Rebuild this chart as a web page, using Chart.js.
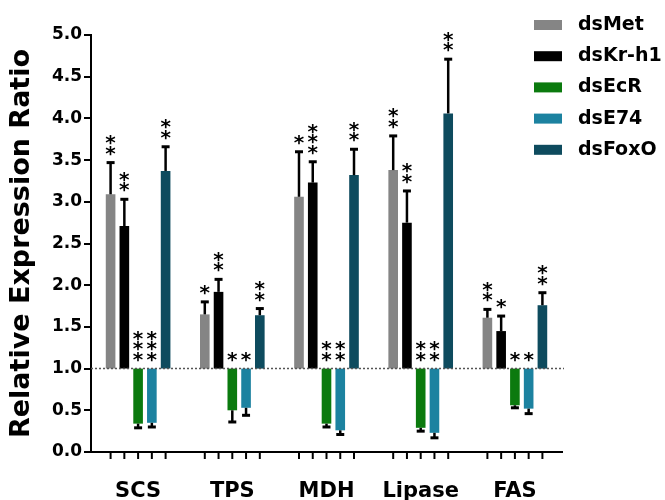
<!DOCTYPE html>
<html><head><meta charset="utf-8">
<script src="https://cdn.jsdelivr.net/npm/chart.js@4"></script>
<style>html,body{margin:0;padding:0;background:#fff}#wrap{width:665px;height:500px;position:relative}</style>
</head><body><div id="wrap"><canvas id="c"></canvas></div>
<script>
const categories = ['SCS', 'TPS', 'MDH', 'Lipase', 'FAS'];
const seriesNames = ['dsMet', 'dsKr-h1', 'dsEcR', 'dsE74', 'dsFoxO'];
const seriesColors = ['#858585', '#000000', '#0b7a0e', '#1c82a0', '#0e4b5e'];
const baseline = 1.0;
const yTicks = [0.0, 0.5, 1.0, 1.5, 2.0, 2.5, 3.0, 3.5, 4.0, 4.5, 5.0];

// mean values
const dsMet   = [3.09, 1.65, 3.06, 3.38, 1.61];
const dsKrh1  = [2.71, 1.92, 3.23, 2.75, 1.45];
const dsEcR   = [0.34, 0.50, 0.34, 0.29, 0.56];
const dsE74   = [0.35, 0.53, 0.26, 0.23, 0.52];
const dsFoxO  = [3.37, 1.64, 3.32, 4.06, 1.76];
// SD (one-sided error bars)
const dsMetSD  = [0.38, 0.15, 0.54, 0.41, 0.10];
const dsKrh1SD = [0.32, 0.15, 0.25, 0.38, 0.18];
const dsEcRSD  = [0.05, 0.14, 0.04, 0.04, 0.03];
const dsE74SD  = [0.05, 0.09, 0.05, 0.06, 0.06];
const dsFoxOSD = [0.29, 0.08, 0.31, 0.65, 0.15];
// significance marks
const dsMetSig  = ['**', '*', '*', '**', '**'];
const dsKrh1Sig = ['**', '**', '***', '**', '*'];
const dsEcRSig  = ['***', '*', '**', '**', '*'];
const dsE74Sig  = ['***', '*', '**', '**', '*'];
const dsFoxOSig = ['**', '**', '**', '**', '**'];

const means = [dsMet, dsKrh1, dsEcR, dsE74, dsFoxO];
const sds = [dsMetSD, dsKrh1SD, dsEcRSD, dsE74SD, dsFoxOSD];
const sigs = [dsMetSig, dsKrh1Sig, dsEcRSig, dsE74Sig, dsFoxOSig];

const FONT = "'DejaVu Sans', 'Liberation Sans', sans-serif";
Chart.defaults.font.family = FONT;
Chart.defaults.color = '#000';

const overlay = {
  id: 'overlay',
  afterDatasetsDraw(chart) {
    const ctx = chart.ctx, ys = chart.scales.y, area = chart.chartArea;
    const yb = ys.getPixelForValue(baseline);
    ctx.save();
    // dotted reference line at 1.0
    ctx.strokeStyle = '#555'; ctx.lineWidth = 1.5; ctx.setLineDash([2, 2]);
    ctx.beginPath(); ctx.moveTo(area.left, yb); ctx.lineTo(area.right + 2, yb); ctx.stroke();
    ctx.setLineDash([]);
    ctx.font = 'bold 20px ' + FONT;
    ctx.textAlign = 'center'; ctx.textBaseline = 'alphabetic';
    const mt = ctx.measureText('*');
    const starOff = (mt.actualBoundingBoxAscent - mt.actualBoundingBoxDescent) / 2;
    chart.data.datasets.forEach((ds, di) => {
      const meta = chart.getDatasetMeta(di);
      meta.data.forEach((bar, i) => {
        const m = means[di][i], sd = sds[di][i];
        const up = m >= baseline;
        const end = up ? m + sd : m - sd;
        const yv = ys.getPixelForValue(m), ye = ys.getPixelForValue(end);
        ctx.strokeStyle = '#000';
        ctx.lineWidth = 2.5;
        ctx.beginPath(); ctx.moveTo(bar.x, yv); ctx.lineTo(bar.x, ye); ctx.stroke();
        ctx.lineWidth = 3;
        ctx.beginPath(); ctx.moveTo(bar.x - 4, ye); ctx.lineTo(bar.x + 4, ye); ctx.stroke();
        // x tick per bar
        ctx.lineWidth = 2;
        ctx.beginPath(); ctx.moveTo(bar.x, area.bottom); ctx.lineTo(bar.x, area.bottom + 7); ctx.stroke();
        // asterisks
        const n = sigs[di][i].length;
        const start = (up ? ye : yb) - 12;
        ctx.fillStyle = '#000';
        for (let k = 0; k < n; k++) {
          ctx.fillText('*', bar.x, start - k * 10.5 + starOff);
        }
      });
    });
    ctx.restore();
  },
  afterDraw(chart) {
    const ctx = chart.ctx;
    ctx.save();
    ctx.font = 'bold 19px ' + FONT;
    ctx.textAlign = 'left'; ctx.textBaseline = 'middle';
    chart.data.datasets.forEach((ds, di) => {
      const ry = 25 + di * 31.2;
      ctx.fillStyle = ds.backgroundColor;
      ctx.fillRect(534, ry - 5, 28, 10);
      ctx.fillStyle = '#000';
      ctx.fillText(ds.label, 578, ry);
    });
    ctx.restore();
  }
};

new Chart(document.getElementById('c'), {
  type: 'bar',
  data: {
    labels: categories,
    datasets: seriesNames.map((name, di) => ({
      label: name,
      data: means[di].map(v => [baseline, v]),
      backgroundColor: seriesColors[di],
      borderWidth: 0,
      categoryPercentage: 0.73,
      barPercentage: 0.7
    }))
  },
  options: {
    responsive: true,
    maintainAspectRatio: false,
    animation: false,
    layout: { padding: { top: 35, right: 103, left: 0, bottom: 0 } },
    plugins: { legend: { display: false }, tooltip: { enabled: false } },
    scales: {
      x: {
        grid: { display: false, drawTicks: false },
        border: { display: true, color: '#000', width: 2 },
        ticks: { font: { size: 21, weight: 'bold' }, color: '#000', padding: 27 },
        afterFit(s) { s.height = 48; }
      },
      y: {
        min: 0, max: 5,
        afterBuildTicks(s) { s.ticks = yTicks.map(v => ({ value: v })); },
        ticks: { font: { size: 17, weight: 'bold' }, color: '#000', padding: 2,
                 callback: v => Number(v).toFixed(1) },
        grid: { display: true, drawOnChartArea: false, drawTicks: true, tickLength: 7, color: '#000', lineWidth: 2 },
        border: { display: true, color: '#000', width: 2 },
        title: { display: true, text: 'Relative Expression Ratio', font: { size: 27, weight: 'bold' }, color: '#000', padding: { top: 6, bottom: 0 } },
        afterFit(s) { s.width = 91; }
      }
    }
  },
  plugins: [overlay]
});
</script>
</body></html>
